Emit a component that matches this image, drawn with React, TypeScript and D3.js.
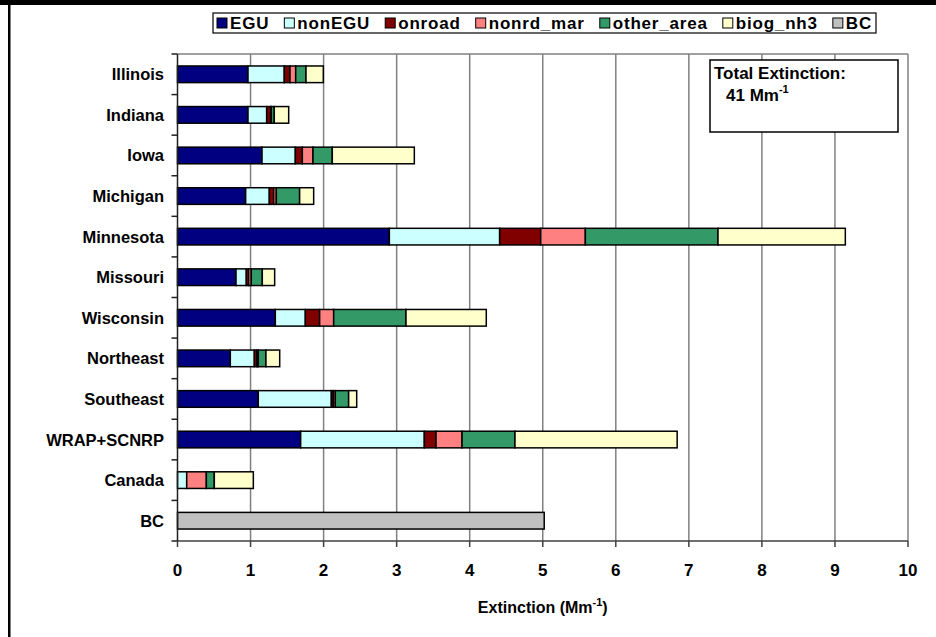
import React, { useEffect, useRef } from "react";
import * as d3 from "d3";

const categories = ["Illinois", "Indiana", "Iowa", "Michigan", "Minnesota", "Missouri", "Wisconsin", "Northeast", "Southeast", "WRAP+SCNRP", "Canada", "BC"];
const seriesNames = ["EGU", "nonEGU", "onroad", "nonrd_mar", "other_area", "biog_nh3", "BC"];
const EGU = [0.965, 0.965, 1.157, 0.933, 2.9, 0.801, 1.339, 0.723, 1.106, 1.686, 0, 0];
const nonEGU = [0.497, 0.256, 0.456, 0.324, 1.51, 0.141, 0.411, 0.329, 1.0, 1.693, 0.126, 0];
const onroad = [0.078, 0.054, 0.096, 0.06, 0.562, 0.032, 0.196, 0.036, 0.027, 0.16, 0, 0];
const nonrd_mar = [0.078, 0.009, 0.146, 0.036, 0.611, 0.036, 0.192, 0.018, 0.027, 0.356, 0.269, 0];
const other_area = [0.141, 0.041, 0.264, 0.319, 1.816, 0.151, 0.99, 0.105, 0.183, 0.725, 0.109, 0];
const biog_nh3 = [0.237, 0.197, 1.123, 0.192, 1.743, 0.169, 1.099, 0.188, 0.11, 2.22, 0.534, 0];
const BC = [0, 0, 0, 0, 0, 0, 0, 0, 0, 0, 0, 5.02];
const xTicks = [0, 1, 2, 3, 4, 5, 6, 7, 8, 9, 10];
const colors = ["#000080", "#CCFFFF", "#800000", "#FF8080", "#339966", "#FFFFCC", "#C0C0C0"];

const W = 936, H = 637;
const FONT = "'Liberation Sans', Arial, sans-serif";

export default function App() {
  const ref = useRef<SVGSVGElement>(null);
  useEffect(() => {
    const svg = d3.select(ref.current);
    svg.selectAll("*").remove();
    const seriesVals = [EGU, nonEGU, onroad, nonrd_mar, other_area, biog_nh3, BC];
    const table = categories.map((c, i) => {
      const o: any = { cat: c };
      seriesNames.forEach((s, j) => (o[s] = seriesVals[j][i]));
      return o;
    });
    const stack = d3.stack().keys(seriesNames)(table as any);

    const left = 177.5, right = 908, top = 54, bottom = 541;
    const x = d3.scaleLinear().domain([0, 10]).range([left, right]);
    const y = d3.scaleBand().domain(categories).range([top, bottom]).paddingInner(0.59).paddingOuter(0.295);
    const step = y.step();

    svg.append("rect").attr("width", W).attr("height", H).attr("fill", "#fff");

    // gridlines
    svg.append("g").selectAll("line").data(xTicks.slice(1)).join("line")
      .attr("x1", d => x(d)).attr("x2", d => x(d)).attr("y1", top).attr("y2", bottom)
      .attr("stroke", "#808080").attr("stroke-width", 1.5);
    svg.append("line").attr("x1", left).attr("x2", right).attr("y1", top).attr("y2", top)
      .attr("stroke", "#808080").attr("stroke-width", 1.5);

    // bars
    const g = svg.append("g");
    stack.forEach((layer, j) => {
      g.append("g").selectAll("rect").data(layer.filter(d => d[1] - d[0] > 0)).join("rect")
        .attr("x", d => x(d[0])).attr("width", d => x(d[1]) - x(d[0]))
        .attr("y", d => y((d as any).data.cat)!).attr("height", y.bandwidth())
        .attr("fill", colors[j]).attr("stroke", "#000").attr("stroke-width", 1.5);
    });

    // axes
    svg.append("line").attr("x1", left).attr("x2", right).attr("y1", bottom).attr("y2", bottom)
      .attr("stroke", "#404040").attr("stroke-width", 1.5);
    svg.append("line").attr("x1", left).attr("x2", left).attr("y1", top).attr("y2", bottom)
      .attr("stroke", "#202020").attr("stroke-width", 1.5);
    svg.append("g").selectAll("line").data(d3.range(categories.length + 1)).join("line")
      .attr("x1", left - 6).attr("x2", left).attr("y1", i => top + i * step).attr("y2", i => top + i * step)
      .attr("stroke", "#202020").attr("stroke-width", 1.5);
    svg.append("g").selectAll("line").data(xTicks).join("line")
      .attr("x1", d => x(d)).attr("x2", d => x(d)).attr("y1", bottom).attr("y2", bottom + 6)
      .attr("stroke", "#404040").attr("stroke-width", 1.5);

    // tick labels
    svg.append("g").selectAll("text").data(xTicks).join("text")
      .attr("x", d => x(d)).attr("y", 576).attr("text-anchor", "middle")
      .attr("font-family", FONT).attr("font-weight", "bold").attr("font-size", 17)
      .text(d => String(d));
    svg.append("g").selectAll("text").data(categories).join("text")
      .attr("x", 164).attr("y", d => y(d)! + y.bandwidth() / 2 + 6).attr("text-anchor", "end")
      .attr("font-family", FONT).attr("font-weight", "bold").attr("font-size", 16.5)
      .text(d => d);

    // axis title
    const t = svg.append("text").attr("x", (left + right) / 2).attr("y", 613).attr("text-anchor", "middle")
      .attr("font-family", FONT).attr("font-weight", "bold").attr("font-size", 16);
    t.append("tspan").text("Extinction (Mm");
    t.append("tspan").attr("font-size", 11).attr("dy", -7).text("-1");
    t.append("tspan").attr("dy", 7).text(")");

    // total extinction box
    svg.append("rect").attr("x", 710).attr("y", 60).attr("width", 188).attr("height", 72)
      .attr("fill", "#fff").attr("stroke", "#000").attr("stroke-width", 1.5);
    svg.append("text").attr("x", 714).attr("y", 79).attr("font-family", FONT).attr("font-weight", "bold")
      .attr("font-size", 17).text("Total Extinction:");
    const t2 = svg.append("text").attr("x", 726).attr("y", 101).attr("font-family", FONT).attr("font-weight", "bold")
      .attr("font-size", 17);
    t2.append("tspan").text("41 Mm");
    t2.append("tspan").attr("font-size", 11).attr("dy", -8).text("-1");

    // legend
    const lx0 = 213, lx1 = 876, ly0 = 13, ly1 = 33;
    svg.append("rect").attr("x", lx0).attr("y", ly0).attr("width", lx1 - lx0).attr("height", ly1 - ly0)
      .attr("fill", "#fff").attr("stroke", "#000").attr("stroke-width", 1.2);
    const lg = svg.append("g");
    const texts = seriesNames.map(s => lg.append("text").attr("font-family", FONT).attr("font-weight", "bold")
      .attr("font-size", 17).attr("letter-spacing", 0.8).attr("y", (ly0 + ly1) / 2 + 6).text(s));
    const widths = texts.map(tx => (tx.node() as SVGTextElement).getComputedTextLength());
    const sw = 10, gapSw = 3;
    const totalText = d3.sum(widths) + seriesNames.length * (sw + gapSw);
    const avail = (lx1 - lx0) - 8;
    const gap = (avail - totalText) / (seriesNames.length - 1);
    let cx = lx0 + 4;
    seriesNames.forEach((s, j) => {
      lg.append("rect").attr("x", cx).attr("y", (ly0 + ly1) / 2 - 5).attr("width", sw).attr("height", sw)
        .attr("fill", colors[j]).attr("stroke", "#000").attr("stroke-width", 1);
      texts[j].attr("x", cx + sw + gapSw);
      cx += sw + gapSw + widths[j] + gap;
    });

    // outer border
    svg.append("rect").attr("x", 0).attr("y", 0).attr("width", W).attr("height", 5).attr("fill", "#000");
    svg.append("rect").attr("x", 8).attr("y", 0).attr("width", 2.5).attr("height", H).attr("fill", "#000");
  }, []);
  return (
    <svg ref={ref} width={W} height={H} style={{ position: "absolute", left: 0, top: 0, display: "block" }} />
  );
}
